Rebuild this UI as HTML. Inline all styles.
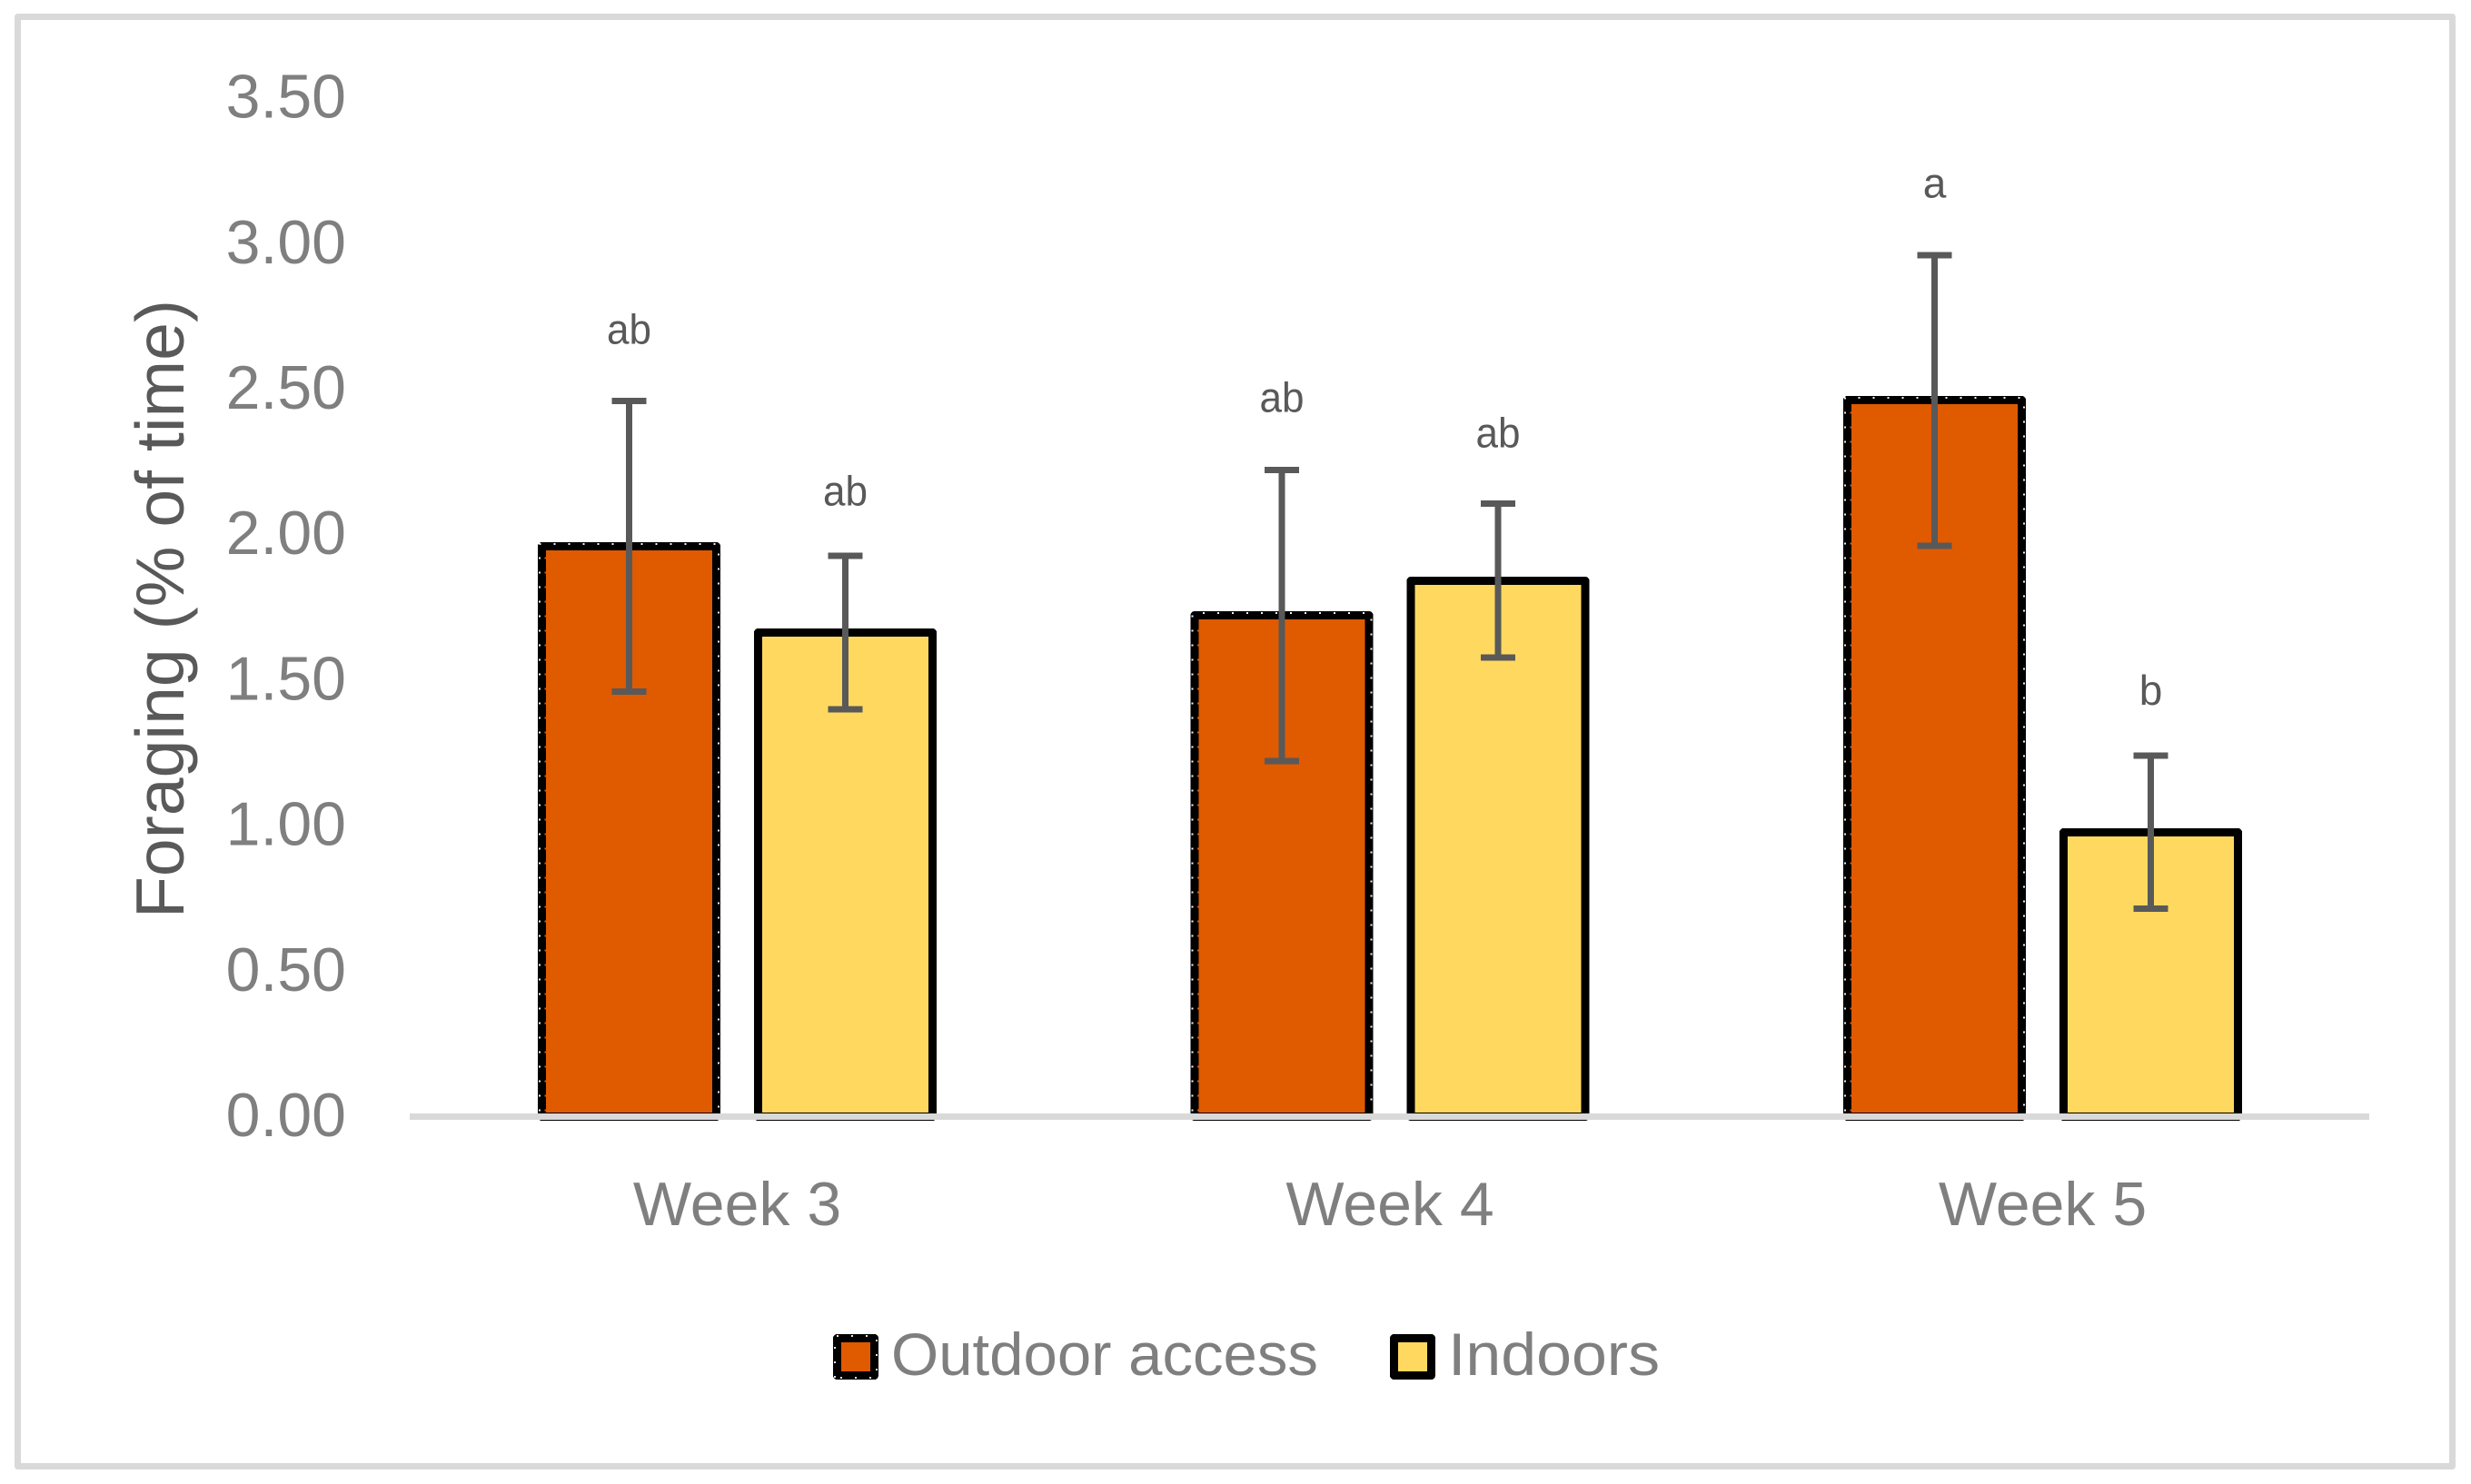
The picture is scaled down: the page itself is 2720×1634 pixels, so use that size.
<!DOCTYPE html>
<html lang="en">
<head>
<meta charset="utf-8">
<title>Foraging by week</title>
<style>
  html, body { margin: 0; padding: 0; background: #fff; }
  svg { display: block; font-family: "Liberation Sans", Arial, sans-serif; }
</style>
</head>
<body>
<svg id="chart" xmlns="http://www.w3.org/2000/svg" width="2720" height="1634" viewBox="0 0 2720 1634"></svg>
<script>
const categories = ["Week 3", "Week 4", "Week 5"];
const seriesNames = ["Outdoor access", "Indoors"];
const outdoorValues = [1.96, 1.722, 2.461];
const indoorValues = [1.664, 1.842, 0.977];
const outdoorErrors = [0.499, 0.5, 0.5];
const indoorErrors = [0.264, 0.264, 0.263];
const outdoorLetters = ["ab", "ab", "a"];
const indoorLetters = ["ab", "ab", "b"];
const outdoorLetterLift = [0.197, 0.2, 0.198];
const indoorLetterLift = [0.172, 0.195, 0.176];
const yTickValues = [0, 0.5, 1, 1.5, 2, 2.5, 3, 3.5];
const yTickLabels = ["0.00", "0.50", "1.00", "1.50", "2.00", "2.50", "3.00", "3.50"];

const NS = "http://www.w3.org/2000/svg";
const svg = document.getElementById("chart");
const yZero = 1229.5, yPerUnit = 320.4;
const groupStart = 811.5, groupStep = 718.5, seriesOffset = 119, barHalf = 96;
const ORANGE = "#e05a00", YELLOW = "#ffd95f", ERR = "#595959", AXIS = "#d9d9d9";

function yScale(v) { return Math.round(yZero - yPerUnit * v - 0.5) + 0.5; }
function xScale(group, series) { return groupStart + groupStep * group + (series === 0 ? -seriesOffset : seriesOffset); }

function make(tag, attrs, parent, text) {
  const el = document.createElementNS(NS, tag);
  for (const k in attrs) el.setAttribute(k, attrs[k]);
  if (text !== undefined) el.textContent = text;
  (parent || svg).appendChild(el);
  return el;
}

function dots(parent, d, color) {
  const el = make("path", { d: d, fill: "none", stroke: color, "stroke-width": 2, "stroke-dasharray": "2 14", "shape-rendering": "crispEdges" }, parent);
  
  
  return el;
}

const frame = make("rect", { x: 19.5, y: 18.5, width: 2680, height: 1596, fill: "#fff", stroke: AXIS, "stroke-width": 7, "stroke-linejoin": "round" });



yTickValues.forEach(function (v, i) {
  const t = make("text", { x: 381, y: yZero - yPerUnit * v + 21.5, "text-anchor": "end", "font-size": 68, fill: "#7f7f7f" }, svg, yTickLabels[i]);
  
  
});

const yTitle = make("text", { transform: "translate(202 1011) rotate(-90)", "font-size": 75, fill: "#595959", textLength: 681, lengthAdjust: "spacingAndGlyphs" }, svg, "Foraging (% of time)");



const allValues = [outdoorValues, indoorValues];
const allErrors = [outdoorErrors, indoorErrors];
const allLetters = [outdoorLetters, indoorLetters];
const allLifts = [outdoorLetterLift, indoorLetterLift];
const fills = [ORANGE, YELLOW];

categories.forEach(function (c, g) {
  [0, 1].forEach(function (s) {
    const cx = xScale(g, s), top = yScale(allValues[s][g]);
    const bar = make("rect", { x: cx - barHalf, y: top, width: barHalf * 2, height: yZero - top, fill: fills[s], stroke: "#000", "stroke-width": 9, "stroke-linejoin": "round", "shape-rendering": "crispEdges" });
    
    
    if (s === 0) {
      const L = cx - barHalf - 2.5, R = cx + barHalf + 2.5, T = top - 2.5;
      dots(svg, "M" + L + " " + (yZero - 6) + "V" + T + "H" + R + "V" + (yZero - 6), "#f2f2f2");
      dots(svg, "M" + (cx - barHalf + 4) + " " + (yZero - 6) + "V" + (top + 4), ORANGE);
    }
  });
});

const axisLine = make("rect", { x: 451, y: 1226, width: 2157, height: 7, fill: AXIS });



categories.forEach(function (c, g) {
  [0, 1].forEach(function (s) {
    const cx = xScale(g, s);
    const v = allValues[s][g], e = allErrors[s][g];
    const hi = yZero - yPerUnit * (v + e), lo = yZero - yPerUnit * (v - e);
    const eg = make("g", { stroke: ERR, "stroke-width": 7, "shape-rendering": "crispEdges" });
    
    
    make("line", { x1: cx, x2: cx, y1: hi, y2: lo }, eg);
    make("line", { x1: cx - 19, x2: cx + 19, y1: hi, y2: hi }, eg);
    make("line", { x1: cx - 19, x2: cx + 19, y1: lo, y2: lo }, eg);

    const word = allLetters[s][g];
    const attrs = { x: cx, y: yZero - yPerUnit * (v + e + allLifts[s][g]), "text-anchor": "middle", "font-size": 46, fill: ERR };
    if (word.length > 1) { attrs.textLength = 49; attrs.lengthAdjust = "spacingAndGlyphs"; }
    const lab = make("text", attrs, svg, word);
    
    
  });
  const cat = make("text", { x: groupStart + groupStep * g, y: 1349, "text-anchor": "middle", "font-size": 68, fill: "#7f7f7f" }, svg, c);
  
  
});

const legend = make("g", {});



const sw1 = make("rect", { x: 921.5, y: 1473.5, width: 41, height: 41, fill: ORANGE, stroke: "#000", "stroke-width": 9, "stroke-linejoin": "round", "shape-rendering": "crispEdges" }, legend);


dots(legend, "M919 1517V1471H965V1517H919", "#e6e6e6");

const lt1 = make("text", { x: 981, y: 1514, "font-size": 66, fill: "#7f7f7f", textLength: 470, lengthAdjust: "spacingAndGlyphs" }, legend, seriesNames[0]);



const sw2 = make("rect", { x: 1534.5, y: 1473.5, width: 41, height: 41, fill: YELLOW, stroke: "#000", "stroke-width": 9, "stroke-linejoin": "round", "shape-rendering": "crispEdges" }, legend);



const lt2 = make("text", { x: 1594, y: 1514, "font-size": 66, fill: "#7f7f7f", textLength: 233, lengthAdjust: "spacingAndGlyphs" }, legend, seriesNames[1]);


</script>
</body>
</html>
